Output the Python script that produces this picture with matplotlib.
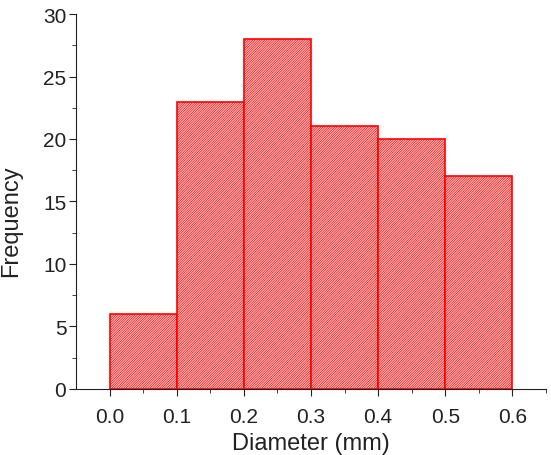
import matplotlib
matplotlib.use("Agg")
import matplotlib.pyplot as plt
import numpy as np

bin_edges = [0.0, 0.1, 0.2, 0.3, 0.4, 0.5, 0.6]
counts = [6, 23, 28, 21, 20, 17]

plt.rcParams["font.family"] = ["Liberation Sans", "DejaVu Sans"]
plt.rcParams["hatch.linewidth"] = 0.5
plt.rcParams["hatch.color"] = "#ff3a3a"

fig = plt.figure(figsize=(5.51, 4.56), dpi=100)
ax = fig.add_axes([0.138, 0.145, 0.853, 0.822])

lefts = np.array(bin_edges[:-1])
widths = np.diff(bin_edges)
ax.bar(lefts, counts, width=widths, align="edge", facecolor="#ffd2d2",
       edgecolor="#ff0000", linewidth=1.2, hatch="/" * 14)

ax.set_xlim(-0.05, 0.65)
ax.set_ylim(0, 30)
ax.set_xticks(np.arange(0, 0.61, 0.1))
ax.set_xticks(np.arange(0.05, 0.66, 0.1), minor=True)
ax.set_yticks(np.arange(0, 31, 5))
ax.set_yticks(np.arange(2.5, 30, 5), minor=True)
ax.set_xticklabels([f"{v:.1f}" for v in np.arange(0, 0.61, 0.1)])

for s in ["top", "right"]:
    ax.spines[s].set_visible(False)
for s in ["left", "bottom"]:
    ax.spines[s].set_color("#222222")
ax.tick_params(axis="both", which="major", direction="out", length=5,
               labelsize=15, color="#222222", labelcolor="#222222")
ax.tick_params(axis="both", which="minor", direction="out", length=3,
               color="#222222")
ax.tick_params(axis="x", pad=8)
ax.tick_params(axis="y", pad=2)

ax.set_xlabel("Diameter (mm)", fontsize=17, color="#222222", va="bottom")
ax.set_ylabel("Frequency", fontsize=17, color="#222222", va="top")
ax.xaxis.set_label_coords(0.5, -66 / 375 + 0.001)
ax.yaxis.set_label_coords(-76 / 470 + 0.001, 0.45)

fig.savefig("out.png", dpi=100)
